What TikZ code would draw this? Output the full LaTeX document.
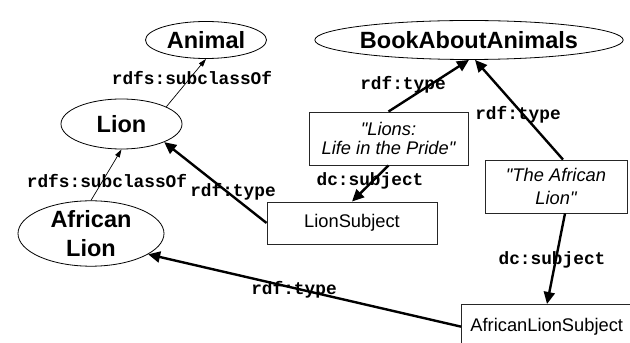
\documentclass[tikz,border=0pt]{standalone}
\usepackage{fontspec}
\setmainfont{Liberation Sans}[Ligatures=TeXOff]
\setmonofont{Liberation Mono}
\usetikzlibrary{shapes.geometric,arrows.meta}
\tikzset{
  cls/.style={draw, ellipse, line width=0.8pt, inner sep=0pt, align=center,
    font=\fontsize{23.5}{29}\selectfont\bfseries},
  lit/.style={draw=black!85, rectangle, line width=0.9pt, inner sep=0pt, align=center,
    font=\fontsize{18.3}{19}\selectfont\itshape},
  res/.style={draw=black!85, rectangle, line width=0.9pt, inner sep=0pt,
    font=\fontsize{18.3}{22}\selectfont},
  thin/.style={line width=0.7pt, -{Triangle[length=8pt,width=5pt]}},
  thick/.style={line width=2.4pt, -{Triangle[length=12pt,width=11pt]}},
  lbl/.style={inner sep=0pt, font=\fontsize{17.8}{20}\selectfont\ttfamily\bfseries}
}
\begin{document}
\begin{tikzpicture}[x=1pt,y=1pt]
\clip (0,0) rectangle (630,343);
\fill[white] (0,0) rectangle (630,343);
% class nodes
\node[cls, minimum width=121pt, minimum height=37pt] (Animal) at (206,303) {Animal};
\node[cls, minimum width=121pt, minimum height=50pt] (Lion) at (121.5,219) {Lion};
\node[cls, minimum width=146pt, minimum height=61pt] (AL) at (91,109.5) {African\\Lion};
\node[cls, minimum width=252pt, minimum height=39pt] (Book) at (469,303) {BookAboutAnimals};
% literal boxes
\node[lit, minimum width=159pt, minimum height=53pt] (Lions) at (388.5,204.5) {"Lions:\\Life in the Pride"};
\node[lit, minimum width=142pt, minimum height=53pt, font=\fontsize{18.3}{23}\selectfont\itshape] (Af) at (556,156.5) {"The African\\Lion"};
% resource boxes
\node[res, minimum width=170pt, minimum height=42pt] (LS) at (352,120) {LionSubject};
\node[res, anchor=north west, minimum height=44.4pt, inner xsep=9pt, text width=200pt, align=left] (ALS) at (461,39) {AfricanLionSubject};
% connectors
\draw[thin] (Lion.21) -- (Animal.south);
\draw[thin] (AL.north) -- (Lion.south);
\draw[thick] (LS.west) -- (Lion.-23);
\draw[thick] (Lions.north) -- (Book.south);
\draw[thick] ([xshift=7pt]Af.north) -- ([xshift=6pt]Book.south);
\draw[thick] (Lions.south) -- (LS.north);
\draw[thick] ([xshift=9pt]Af.south) -- ([xshift=86pt]ALS.north west);
\draw[thick] (ALS.west) -- (AL.-20);
% labels
\node[lbl] (l1) at (192,265) {rdfs:subclassOf};
\node[lbl] (l2) at (107,162) {rdfs:subclassOf};
\node[lbl] (l3) at (233,151) {rdf:type};
\node[lbl] (l4) at (403,258) {rdf:type};
\node[lbl] (l5) at (518,228) {rdf:type};
\node[lbl] (l6) at (370,162) {dc:subject};
\node[lbl] (l7) at (552,83) {dc:subject};
\node[lbl] (l8) at (294,53) {rdf:type};
\end{tikzpicture}
\end{document}
